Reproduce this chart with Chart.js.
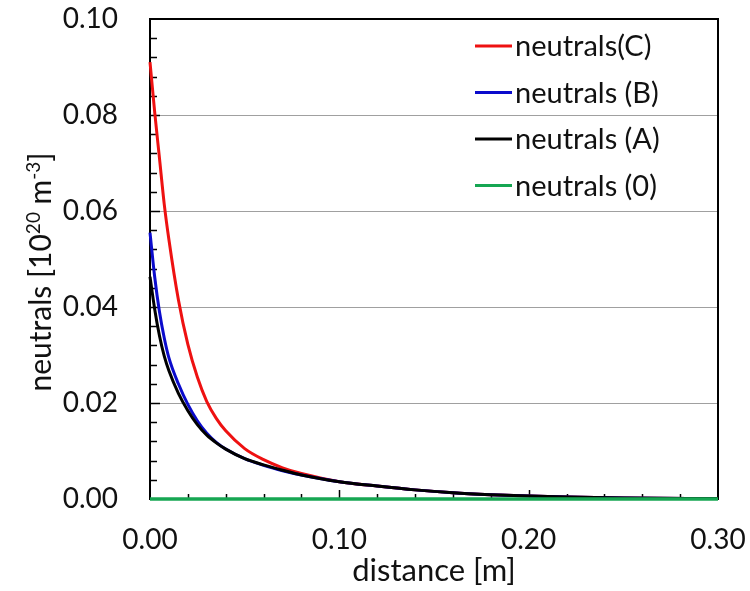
<!DOCTYPE html>
<html>
<head>
<meta charset="utf-8">
<title>neutrals vs distance</title>
<script src="https://cdn.jsdelivr.net/npm/chart.js@4.4.1/dist/chart.umd.min.js"></script>
<style>
    html, body { margin: 0; padding: 0; background: #fff; }
    #wrap { width: 750px; height: 591px; }
</style>
</head>
<body>
<div id="wrap"><canvas id="grafikNeutrals" width="750" height="591"></canvas></div>
<script>
// distance [m]
let jarak = [0, 0.0025, 0.005, 0.0075, 0.01, 0.015, 0.02, 0.025, 0.03, 0.035, 0.04, 0.05, 0.06,
    0.07, 0.08, 0.10, 0.12, 0.14, 0.16, 0.18, 0.20, 0.22, 0.25, 0.30];

// neutrals [1e20 m^-3]
let neutralsC = [0.091, 0.0805, 0.071, 0.0615, 0.054, 0.0415, 0.0322, 0.0254, 0.0203, 0.0168, 0.0142, 0.0105, 0.0082,
    0.0065, 0.0053, 0.0036, 0.0027, 0.0019, 0.0013, 0.0009, 0.0006, 0.0004, 0.0002, 0.0001];
let neutralsB = [0.0555, 0.0462, 0.0390, 0.0336, 0.0294, 0.0240, 0.0197, 0.0163, 0.0137, 0.0118, 0.0104, 0.0084, 0.0070,
    0.0059, 0.0050, 0.0036, 0.0027, 0.0019, 0.0013, 0.0009, 0.0006, 0.0004, 0.0002, 0.0001];
let neutralsA = [0.0463, 0.0395, 0.0340, 0.0298, 0.0267, 0.0220, 0.0184, 0.0155, 0.0133, 0.0117, 0.0104, 0.0084, 0.0071,
    0.0060, 0.0050, 0.0036, 0.0027, 0.0019, 0.0013, 0.0009, 0.0006, 0.0004, 0.0002, 0.0001];
let neutrals0 = [0, 0, 0, 0, 0, 0, 0, 0, 0, 0, 0, 0, 0,
    0, 0, 0, 0, 0, 0, 0, 0, 0, 0, 0];

let labelSeri = ['neutrals(C)', 'neutrals (B)', 'neutrals (A)', 'neutrals (0)'];
let warnaSeri = ['#ee1111', '#0b0bcc', '#000000', '#16a652'];

// axis ticks
let tickX = [0, 0.10, 0.20, 0.30];
let tickY = [0, 0.02, 0.04, 0.06, 0.08, 0.10];
let langkahMinorX = 0.02;
let langkahMinorY = 0.004;

let fontNama = 'Lato';
let warnaTeks = '#111111';

function gabung(xs, ys) {
    return xs.map(function (x, i) {
        return { x: x, y: ys[i] };
    });
}

let semuaData = [neutralsC, neutralsB, neutralsA, neutrals0];

// frame, inner tick marks, legend and y title
let pluginHiasan = {
    id: 'hiasan',
    beforeDatasetsDraw: function (chart) {
        let ctx = chart.ctx;
        let a = chart.chartArea;
        ctx.save();
        ctx.strokeStyle = '#000';
        ctx.lineWidth = 2;
        ctx.strokeRect(a.left, a.top, a.right - a.left, a.bottom - a.top);

        let sx = chart.scales.x;
        let sy = chart.scales.y;
        ctx.lineWidth = 1.5;
        ctx.beginPath();
        let nY = Math.round((sy.max - sy.min) / langkahMinorY);
        for (let i = 1; i < nY; i++) {
            let py = Math.round(sy.getPixelForValue(i * langkahMinorY)) + 0.5;
            let pj = (i % 5 === 0) ? 10 : 7;
            ctx.moveTo(a.left, py);
            ctx.lineTo(a.left + pj, py);
        }
        let nX = Math.round((sx.max - sx.min) / langkahMinorX);
        for (let i = 1; i < nX; i++) {
            let px = Math.round(sx.getPixelForValue(i * langkahMinorX)) + 0.5;
            let pj = (i % 5 === 0) ? 9 : 5;
            ctx.moveTo(px, a.bottom);
            ctx.lineTo(px, a.bottom - pj);
        }
        ctx.stroke();
        ctx.restore();
    },
    afterDraw: function (chart) {
        let ctx = chart.ctx;
        ctx.save();

        // legend
        ctx.font = '29px ' + fontNama;
        ctx.textBaseline = 'middle';
        ctx.textAlign = 'left';
        labelSeri.forEach(function (teks, i) {
            let y = 46 + i * 46.5;
            ctx.strokeStyle = warnaSeri[i];
            ctx.lineWidth = 3;
            ctx.beginPath();
            ctx.moveTo(475, y);
            ctx.lineTo(512, y);
            ctx.stroke();
            ctx.fillStyle = warnaTeks;
            ctx.fillText(teks, 515, y + 1);
        });

        // y title with superscripts
        let bagian = [
            { t: 'neutrals [10', sup: false },
            { t: '20', sup: true },
            { t: ' m', sup: false },
            { t: '-3', sup: true },
            { t: ']', sup: false }
        ];
        let fontBesar = '30px ' + fontNama;
        let fontKecil = '19px ' + fontNama;
        let total = 0;
        bagian.forEach(function (b) {
            ctx.font = b.sup ? fontKecil : fontBesar;
            b.w = ctx.measureText(b.t).width;
            total += b.w;
        });
        ctx.translate(41, 272);
        ctx.rotate(-Math.PI / 2);
        ctx.fillStyle = warnaTeks;
        ctx.textBaseline = 'alphabetic';
        let posX = -total / 2;
        bagian.forEach(function (b) {
            ctx.font = b.sup ? fontKecil : fontBesar;
            ctx.fillText(b.t, posX, b.sup ? -1 : 10);
            posX += b.w;
        });
        ctx.restore();
    }
};

new Chart(document.getElementById('grafikNeutrals'), {
    type: 'line',
    data: {
        datasets: semuaData.map(function (ys, i) {
            return {
                label: labelSeri[i],
                data: gabung(jarak, ys),
                borderColor: warnaSeri[i],
                backgroundColor: warnaSeri[i],
                borderWidth: i === 3 ? 3.5 : 3,
                pointRadius: 0,
                fill: false,
                clip: 4,
                cubicInterpolationMode: 'monotone',
                order: 3 - i
            };
        })
    },
    options: {
        responsive: false,
        animation: false,
        layout: {
            padding: { top: 19, right: 32, left: 0, bottom: 0 }
        },
        plugins: {
            legend: { display: false },
            tooltip: { enabled: false }
        },
        scales: {
            x: {
                type: 'linear',
                min: 0,
                max: 0.30,
                afterBuildTicks: function (scale) {
                    scale.ticks = tickX.map(function (v) { return { value: v }; });
                },
                afterFit: function (scale) {
                    scale.height = 92;
                    scale.paddingLeft = 0;
                    scale.paddingRight = 0;
                },
                grid: { display: false, drawTicks: false },
                border: { display: false },
                ticks: {
                    padding: 24,
                    color: warnaTeks,
                    font: { family: fontNama, size: 28 },
                    maxRotation: 0,
                    callback: function (value) {
                        return Number(value).toFixed(2);
                    }
                },
                title: {
                    display: true,
                    text: 'distance [m]',
                    color: warnaTeks,
                    font: { family: fontNama, size: 31 },
                    padding: { top: 0, bottom: 1 }
                }
            },
            y: {
                min: 0,
                max: 0.10,
                afterBuildTicks: function (scale) {
                    scale.ticks = tickY.map(function (v) { return { value: v }; });
                },
                afterFit: function (scale) {
                    scale.width = 150;
                    scale.paddingTop = 0;
                    scale.paddingBottom = 0;
                },
                grid: {
                    drawTicks: false,
                    lineWidth: 1,
                    color: function (context) {
                        let v = context.tick ? context.tick.value : 0;
                        if (v <= 0 || v >= 0.099) {
                            return 'rgba(0,0,0,0)';
                        }
                        return '#a0a0a0';
                    }
                },
                border: { display: false },
                ticks: {
                    padding: 32,
                    color: warnaTeks,
                    font: { family: fontNama, size: 28 },
                    callback: function (value) {
                        return Number(value).toFixed(2);
                    }
                }
            }
        }
    },
    plugins: [pluginHiasan]
});
</script>
</body>
</html>
